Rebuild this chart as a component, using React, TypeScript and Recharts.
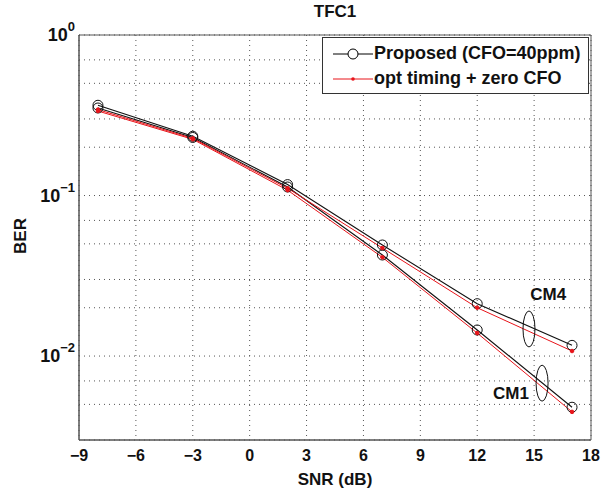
import React from 'react'
import {
  LineChart,
  Line,
  XAxis,
  YAxis,
  CartesianGrid,
  ReferenceDot,
  ReferenceArea,
} from 'recharts'

const snr = [-8, -3, 2, 7, 12, 17]
const proposedCM4 = [0.365, 0.234, 0.117, 0.0492, 0.0212, 0.01166]
const proposedCM1 = [0.351, 0.23, 0.113, 0.0426, 0.01454, 0.0048]
const optimalCM4 = [0.343, 0.227, 0.111, 0.0471, 0.02, 0.01075]
const optimalCM1 = [0.336, 0.224, 0.108, 0.0412, 0.0139, 0.00449]

const xTicks = [-9, -6, -3, 0, 3, 6, 9, 12, 15, 18]
const yTicks = [
  0.003, 0.004, 0.005, 0.006, 0.007, 0.008, 0.009, 0.01,
  0.02, 0.03, 0.04, 0.05, 0.06, 0.07, 0.08, 0.09, 0.1,
  0.2, 0.3, 0.4, 0.5, 0.6, 0.7, 0.8, 0.9, 1,
]
const decadeLabels: Record<string, string> = { '0.01': '−2', '0.1': '−1', '1': '0' }

const legendItems = [
  { label: 'Proposed (CFO=40ppm)', color: '#000', marker: 'circle' },
  { label: 'opt timing + zero CFO', color: '#e8141a', marker: 'dot' },
]

// ellipse + text annotations, in data units
const groups = [
  { name: 'CM4', ex: 14.73, ey: 0.01475, tx: 15.74, ty: 0.0244 },
  { name: 'CM1', ex: 15.42, ey: 0.00678, tx: 13.78, ty: 0.00587 },
]

const data = snr.map((s, i) => ({
  snr: s,
  p4: proposedCM4[i],
  p1: proposedCM1[i],
  o4: optimalCM4[i],
  o1: optimalCM1[i],
}))

const FONT = '"Liberation Sans", Arial, sans-serif'

const fmtX = (v: number) => (v < 0 ? `−${Math.abs(v)}` : `${v}`)

function YTick(props: any) {
  const { x, y, payload } = props
  const sup = decadeLabels[String(payload.value)]
  if (sup === undefined) return null
  return (
    <text x={x} y={y + 6} textAnchor="end" fontFamily={FONT} fontWeight="bold" fill="#111">
      <tspan fontSize={18}>10</tspan>
      <tspan fontSize={13} dy={-10}>{sup}</tspan>
    </text>
  )
}

function LegendBox() {
  return (
    <div
      style={{
        position: 'absolute',
        left: 322,
        top: 37,
        border: '1px solid #333',
        background: '#fff',
        width: 267,
        height: 57,
        fontFamily: FONT,
        fontWeight: 'bold',
        fontSize: 18,
        boxSizing: 'border-box',
        paddingTop: 3,
      }}
    >
      {legendItems.map((it) => (
        <div key={it.label} style={{ display: 'flex', alignItems: 'center', height: 25 }}>
          <svg width={42} height={14} style={{ marginLeft: 8 }}>
            <line x1={2} y1={7} x2={42} y2={7} stroke={it.color} strokeWidth={1} />
            {it.marker === 'circle' ? (
              <circle cx={22} cy={7} r={5} fill="#fff" stroke={it.color} />
            ) : (
              <circle cx={22} cy={7} r={1.8} fill={it.color} />
            )}
          </svg>
          <span style={{ color: '#111', whiteSpace: 'nowrap', marginLeft: 1 }}>{it.label}</span>
        </div>
      ))}
    </div>
  )
}

export default function App() {
  return (
    <div style={{ position: 'absolute', left: 0, top: 0, width: 613, height: 493, background: '#fff' }}>
      <div
        style={{
          position: 'absolute',
          left: 79,
          width: 512,
          top: 2,
          textAlign: 'center',
          fontFamily: FONT,
          fontWeight: 'bold',
          fontSize: 17,
          color: '#111',
        }}
      >
        TFC1
      </div>
      <div
        style={{
          position: 'absolute',
          left: 2,
          top: 226,
          width: 38,
          textAlign: 'center',
          transform: 'rotate(-90deg)',
          fontFamily: FONT,
          fontWeight: 'bold',
          fontSize: 17,
          color: '#111',
        }}
      >
        BER
      </div>
      <LineChart width={613} height={493} data={data} margin={{ top: 35, right: 22, left: 0, bottom: 0 }}>
        <CartesianGrid stroke="#555" strokeDasharray="1 4" strokeWidth={1} />
        <XAxis
          dataKey="snr"
          type="number"
          domain={[-9, 18]}
          ticks={xTicks}
          tickFormatter={fmtX}
          height={53}
          tickLine={false}
          tickSize={0}
          tickMargin={10}
          axisLine={{ stroke: '#555' }}
          tick={{ fill: '#111', fontSize: 16, fontWeight: 'bold', fontFamily: FONT }}
          label={{
            value: 'SNR (dB)',
            position: 'insideBottom',
            offset: 8,
            fill: '#111',
            fontSize: 17,
            fontWeight: 'bold',
            fontFamily: FONT,
          }}
        />
        <YAxis
          type="number"
          scale="log"
          domain={[0.003, 1]}
          ticks={yTicks}
          allowDataOverflow
          width={79}
          tickLine={false}
          tickSize={0}
          tickMargin={4}
          axisLine={{ stroke: '#555' }}
          tick={<YTick />}
        />
        <ReferenceArea x1={-9} x2={18} y1={0.003} y2={1} fill="none" stroke="#555" strokeWidth={1} ifOverflow="visible" />
        <Line dataKey="p4" stroke="#111" strokeWidth={1.1} dot={{ r: 5, stroke: '#111', fill: 'none', strokeWidth: 1 }} isAnimationActive={false} />
        <Line dataKey="p1" stroke="#111" strokeWidth={1.1} dot={{ r: 5, stroke: '#111', fill: 'none', strokeWidth: 1 }} isAnimationActive={false} />
        <Line dataKey="o4" stroke="#e8141a" strokeWidth={1} dot={{ r: 1.8, stroke: '#e8141a', fill: '#e8141a' }} isAnimationActive={false} />
        <Line dataKey="o1" stroke="#e8141a" strokeWidth={1} dot={{ r: 1.8, stroke: '#e8141a', fill: '#e8141a' }} isAnimationActive={false} />
        {groups.map((g) => (
          <ReferenceDot
            key={`e-${g.name}`}
            x={g.ex}
            y={g.ey}
            r={0}
            ifOverflow="visible"
            shape={(p: any) => <ellipse cx={p.cx} cy={p.cy} rx={6} ry={18} fill="none" stroke="#111" strokeWidth={1} />}
          />
        ))}
        {groups.map((g) => (
          <ReferenceDot
            key={`t-${g.name}`}
            x={g.tx}
            y={g.ty}
            r={0}
            ifOverflow="visible"
            shape={(p: any) => (
              <text x={p.cx} y={p.cy + 6} textAnchor="middle" fontFamily={FONT} fontWeight="bold" fontSize={17} fill="#111">
                {g.name}
              </text>
            )}
          />
        ))}
      </LineChart>
      <LegendBox />
    </div>
  )
}
